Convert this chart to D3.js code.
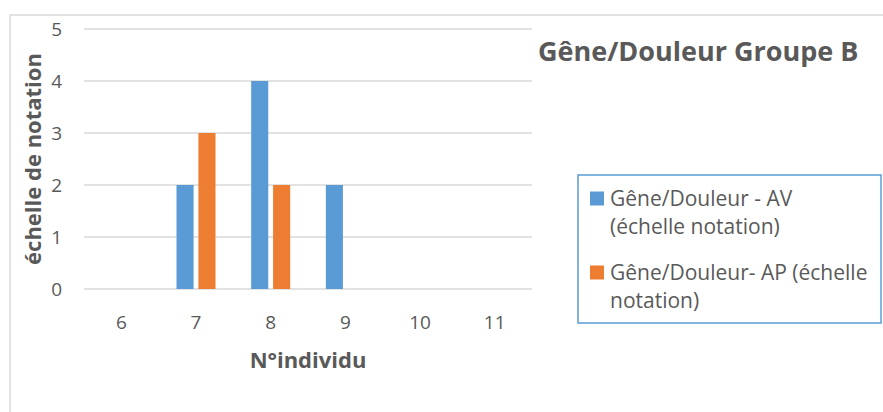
<!DOCTYPE html>
<html>
<head>
<meta charset="utf-8">
<script src="https://cdn.jsdelivr.net/npm/d3@7"></script>
<style>
  html, body { margin: 0; padding: 0; background: #fff; }
  svg text { font-family: "Open Sans", "DejaVu Sans", sans-serif; fill: #595959; }
</style>
</head>
<body>
<div id="chart"></div>
<script>
const categories = ["6", "7", "8", "9", "10", "11"];
const seriesNames = ["Gêne/Douleur - AV (échelle notation)", "Gêne/Douleur- AP (échelle notation)"];
const valuesAV = [0, 2, 4, 2, 0, 0];
const valuesAP = [0, 3, 2, 0, 0, 0];
const yTicks = [0, 1, 2, 3, 4, 5];
const colors = ["#5B9BD5", "#ED7D31"];

const width = 883, height = 412;
const margin = { left: 84, right: 351, top: 29, bottom: 123 };

const svg = d3.select("#chart").append("svg")
    .attr("width", width)
    .attr("height", height);

// chart area border (light grey, only top & left visible)
svg.append("line").attr("x1", 10).attr("x2", width).attr("y1", 15).attr("y2", 15)
    .attr("stroke", "#d9d9d9").attr("stroke-width", 1.5);
svg.append("line").attr("x1", 10).attr("x2", 10).attr("y1", 15).attr("y2", height)
    .attr("stroke", "#d9d9d9").attr("stroke-width", 1.5);

const x0 = d3.scaleBand()
    .domain(categories)
    .range([margin.left, width - margin.right]);

const y = d3.scaleLinear()
    .domain([0, 5])
    .range([height - margin.bottom, margin.top]);

const x1 = d3.scaleBand()
    .domain([0, 1])
    .range([x0.bandwidth() / 2 - 19.5, x0.bandwidth() / 2 + 19.5])
    .paddingInner(0.22);

// gridlines
svg.append("g")
  .selectAll("line")
  .data(yTicks)
  .join("line")
    .attr("x1", margin.left)
    .attr("x2", width - margin.right)
    .attr("y1", d => y(d))
    .attr("y2", d => y(d))
    .attr("stroke", "#d9d9d9")
    .attr("stroke-width", 1.3);

// y tick labels
svg.append("g")
  .selectAll("text")
  .data(yTicks)
  .join("text")
    .attr("x", 62)
    .attr("y", d => y(d))
    .attr("dy", "0.35em")
    .attr("text-anchor", "end")
    .attr("font-size", 19)
    .text(d => d);

// x tick labels
svg.append("g")
  .selectAll("text")
  .data(categories)
  .join("text")
    .attr("x", d => x0(d) + x0.bandwidth() / 2)
    .attr("y", 329)
    .attr("text-anchor", "middle")
    .attr("font-size", 19)
    .text(d => d);

// bars
const rows = categories.map((c, i) => ({ cat: c, vals: [valuesAV[i], valuesAP[i]] }));
svg.append("g")
  .selectAll("g")
  .data(rows)
  .join("g")
    .attr("transform", d => `translate(${x0(d.cat)},0)`)
  .selectAll("rect")
  .data(d => d.vals.map((v, k) => ({ k, v })).filter(e => e.v > 0))
  .join("rect")
    .attr("x", d => x1(d.k))
    .attr("width", x1.bandwidth())
    .attr("y", d => y(d.v))
    .attr("height", d => y(0) - y(d.v))
    .attr("fill", d => colors[d.k]);

// axis titles
svg.append("text")
    .attr("x", (margin.left + width - margin.right) / 2)
    .attr("y", 368)
    .attr("text-anchor", "middle")
    .attr("font-size", 22)
    .attr("font-weight", "bold")
    .text("N°individu");

svg.append("text")
    .attr("transform", `translate(41,${(y(0) + y(5)) / 2}) rotate(-90)`)
    .attr("text-anchor", "middle")
    .attr("font-size", 22)
    .attr("font-weight", "bold")
    .text("échelle de notation");

// title
svg.append("text")
    .attr("x", 538)
    .attr("y", 61)
    .attr("font-size", 27)
    .attr("font-weight", "bold")
    .text("Gêne/Douleur Groupe B");

// legend
const legend = svg.append("g");
legend.append("rect")
    .attr("x", 578).attr("y", 175)
    .attr("width", 303).attr("height", 148)
    .attr("fill", "#fff")
    .attr("stroke", "#5B9BD5")
    .attr("stroke-width", 1.5);

const legendLines = [
  ["Gêne/Douleur - AV", "(échelle notation)"],
  ["Gêne/Douleur- AP (échelle", "notation)"]
];
const lg = legend.selectAll("g.item")
  .data(legendLines)
  .join("g")
    .attr("class", "item")
    .attr("transform", (d, i) => `translate(590,${191.5 + i * 74})`);

lg.append("rect")
    .attr("width", 14).attr("height", 14)
    .attr("fill", (d, i) => colors[i]);

lg.selectAll("text")
  .data(d => d)
  .join("text")
    .attr("x", 20)
    .attr("y", (d, j) => 14 + j * 28)
    .attr("font-size", 21)
    .text(d => d);
</script>
</body>
</html>
